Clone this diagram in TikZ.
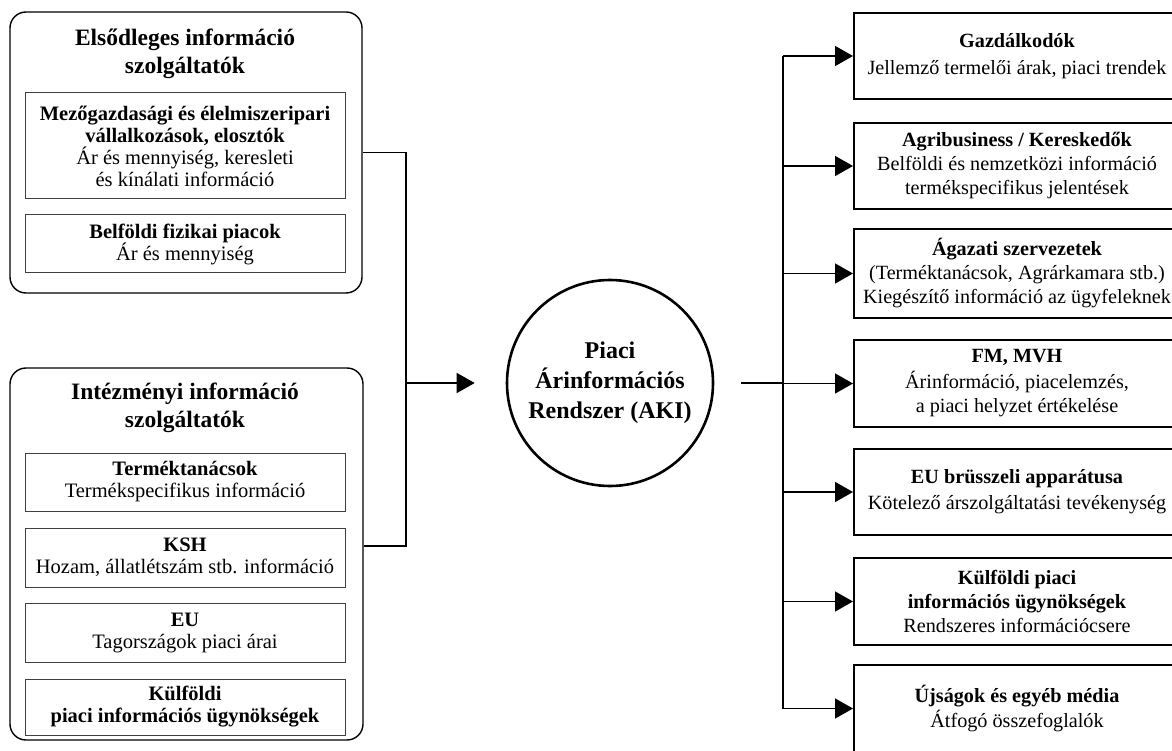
\documentclass[tikz,border=0pt]{standalone}
\usepackage{fontspec}
\setmainfont{Liberation Serif}
\usetikzlibrary{arrows.meta}
\begin{document}
\begin{tikzpicture}[x=1pt,y=-1pt,
 grp/.style={draw, line width=1.4pt, rounded corners=16pt},
 inbox/.style={draw=black!75, line width=1pt, minimum width=320pt, align=center, font=\fontsize{20.5}{22}\selectfont, inner sep=0pt},
 ttl/.style={align=center, font=\fontsize{23.5}{28}\selectfont\bfseries},
 outbox/.style={draw, line width=2pt, minimum width=326pt, align=center, font=\fontsize{20.2}{24}\selectfont, inner sep=0pt},
 hub/.style={circle, draw, line width=2.6pt, minimum size=206pt, align=center, font=\fontsize{24}{30}\selectfont\bfseries},
 conn/.style={line width=1.5pt},
 arr/.style={conn, -{Triangle[length=18pt,width=20pt]}}]
\fill[white] (0,0) rectangle (1172,751);
\useasboundingbox (0,0) rectangle (1172,751);

% left groups
\node[grp, minimum width=352pt, minimum height=281pt] (g1) at (186,152.5) {};
\node[ttl] (t1) at (185,54) {Elsődleges információ\\szolgáltatók};
\node[inbox, minimum height=106pt] (m1) at (185,146) {\textbf{Mezőgazdasági és élelmiszeripari}\\\textbf{vállalkozások, elosztók}\\Ár és mennyiség, keresleti\\és kínálati információ};
\node[inbox, minimum height=58pt] (m2) at (185,244) {\textbf{Belföldi fizikai piacok}\\Ár és mennyiség};

\node[grp, minimum width=353pt, minimum height=372pt] (g2) at (186.5,554) {};
\node[ttl] (t2) at (185,407.5) {Intézményi információ\\szolgáltatók};
\node[inbox, minimum height=58pt] (n1) at (185,482) {\textbf{Terméktanácsok}\\Termékspecifikus információ};
\node[inbox, minimum height=59pt] (n2) at (185,557.5) {\textbf{KSH}\\Hozam, állatlétszám stb. információ};
\node[inbox, minimum height=59pt] (n3) at (185,632.5) {\textbf{EU}\\Tagországok piaci árai};
\node[inbox, minimum height=56pt] (n4) at (185,707) {\textbf{Külföldi}\\\textbf{piaci információs ügynökségek}};

% hub
\node[hub] (aki) at (610,383) {Piaci\\Árinformációs\\Rendszer (AKI)};

% right boxes
\node[outbox, minimum height=86pt] (b1) at (1017,56) {\textbf{Gazdálkodók}\\[3pt]Jellemző termelői árak, piaci trendek};
\node[outbox, minimum height=86pt] (b2) at (1017,166) {\textbf{Agribusiness / Kereskedők}\\Belföldi és nemzetközi információ\\termékspecifikus jelentések};
\node[outbox, minimum height=89pt] (b3) at (1017,273.5) {\textbf{Ágazati szervezetek}\\(Terméktanácsok, Agrárkamara stb.)\\Kiegészítő információ az ügyfeleknek};
\node[outbox, minimum height=87pt] (b4) at (1017,383.5) {\textbf{FM, MVH}\\[2pt]Árinformáció, piacelemzés,\\a piaci helyzet értékelése};
\node[outbox, minimum height=86pt] (b5) at (1017,492) {\textbf{EU brüsszeli apparátusa}\\[2pt]Kötelező árszolgáltatási tevékenység};
\node[outbox, minimum height=87pt] (b6) at (1017,601.5) {\textbf{Külföldi piaci}\\\textbf{információs ügynökségek}\\Rendszeres információcsere};
\node[outbox, minimum height=87pt] (b7) at (1017,708.5) {\textbf{Újságok és egyéb média}\\[1pt]Átfogó összefoglalók};

% connectors left
\coordinate (jl) at (406,383);
\draw[conn] (g1.east) -| (jl);
\draw[conn] ([yshift=8pt]g2.east) -| (jl);
\draw[arr, shorten >=31pt] (jl) -- (aki.west);

% connectors right
\coordinate (jr) at (783,383);
\draw[conn, shorten <=27pt] (aki.east) -- (jr);
\draw[conn] (jr |- b1.west) -- (jr |- b7.west);
\foreach \b in {b1,b2,b3,b4,b5,b6,b7}
  \draw[arr] (jr |- \b.west) -- (\b.west);
\end{tikzpicture}
\end{document}
